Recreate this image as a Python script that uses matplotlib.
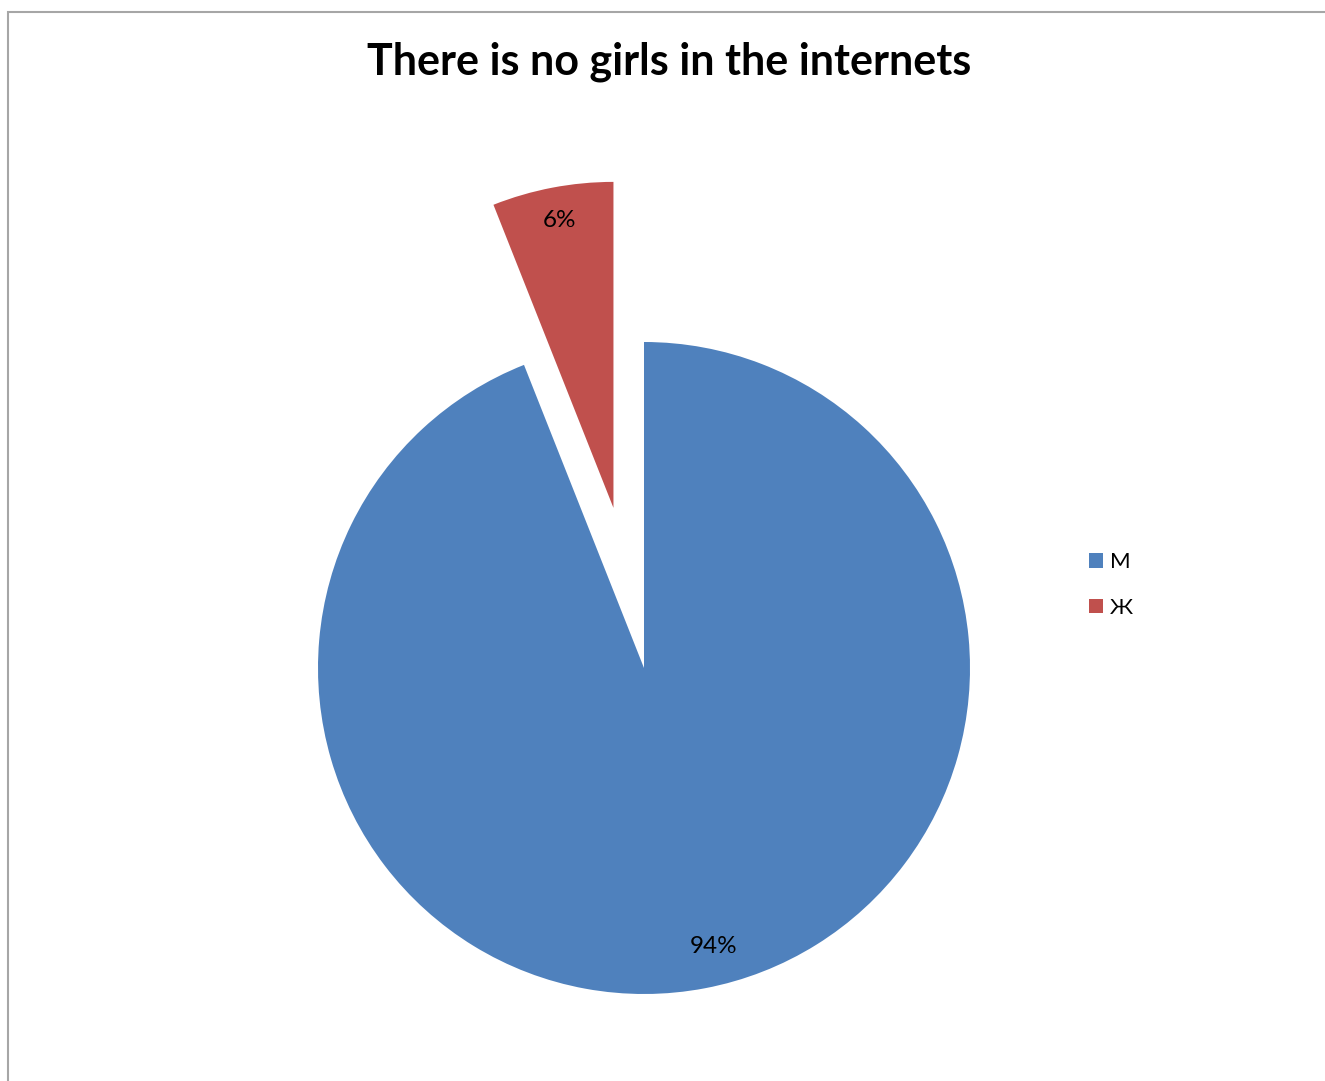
import matplotlib
matplotlib.use("Agg")
import matplotlib.pyplot as plt
from matplotlib.patches import Rectangle

categories = ["М", "Ж"]
values = [94, 6]
colors = ["#4F81BD", "#C0504D"]
title = "There is no girls in the internets"

W, H = 1325, 1081
fig = plt.figure(figsize=(W / 100, H / 100), dpi=100)
ax = fig.add_axes([0, 0, 1, 1])
ax.set_xlim(0, W)
ax.set_ylim(0, H)
ax.set_aspect("equal")
ax.axis("off")

# chart border (top and left visible)
fig.patches.append(Rectangle((8 / W, -0.05), 1.2, (H - 12) / H + 0.05,
                             transform=fig.transFigure, fill=False,
                             edgecolor="#A6A6A6", linewidth=1.5))

wedges, texts, autotexts = ax.pie(
    values, colors=colors, startangle=90, counterclock=False,
    explode=[0, 163], radius=326, center=(644, H - 668),
    autopct="%1.0f%%", pctdistance=0.88,
    textprops=dict(family=["Lato", "DejaVu Sans"], fontsize=17.5, color="#000000"),
    wedgeprops=dict(linewidth=0),
)
# small label nudges to match the reference placement
x0, y0 = autotexts[0].get_position()
autotexts[0].set_position((x0 + 16, y0 + 3))
x1, y1 = autotexts[1].get_position()
autotexts[1].set_position((x1, y1 + 6))

ax.set_xlim(0, W)
ax.set_ylim(0, H)

fig.text(669 / W, 1 - 62 / H, title, ha="center", va="center",
         fontsize=31, fontweight="bold", family=["Lato", "DejaVu Sans"])

leg = fig.legend(wedges, categories, loc="center left",
                 bbox_to_anchor=(1089 / W, 1 - 585 / H), frameon=False,
                 prop=dict(family=["Lato", "DejaVu Sans"], size=16),
                 handlelength=0.63, handleheight=0.63, handletextpad=0.3,
                 labelspacing=1.15, borderpad=0, borderaxespad=0)

fig.savefig("out.png", dpi=100, facecolor="white")
